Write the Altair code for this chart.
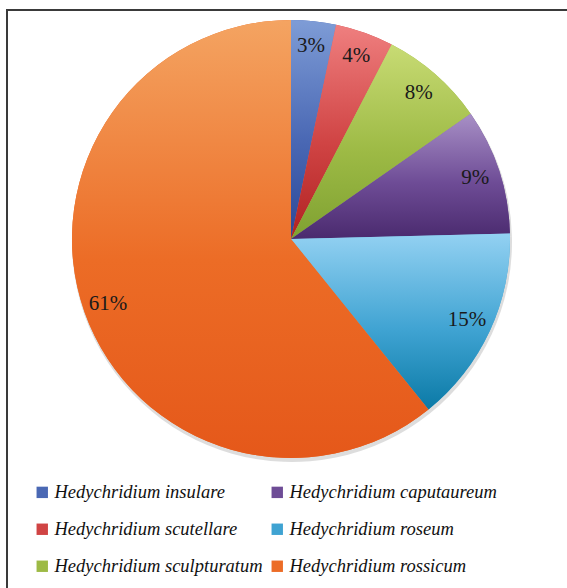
import altair as alt
import pandas as pd
import math

species = ["Hedychridium insulare", "Hedychridium scutellare", "Hedychridium sculpturatum",
           "Hedychridium caputaureum", "Hedychridium roseum", "Hedychridium rossicum"]
shares = [3.3, 4.3, 7.7, 9.3, 14.6, 60.8]
pct_labels = ["3%", "4%", "8%", "9%", "15%", "61%"]
top_colors = ["#7E9CD6", "#EF7F7F", "#C8DB74", "#A890C6", "#93D1F2", "#F4A462"]
mid_colors = ["#4A68B4", "#D04444", "#9DBA45", "#6E4C96", "#3FA3D2", "#EC6C26"]
bottom_colors = ["#2B4898", "#B02222", "#7FA131", "#4A2A6E", "#0B7AA6", "#E5581A"]

df = pd.DataFrame({"species": species, "share": shares, "label": pct_labels,
                   "order": list(range(len(species)))})

CX, CY, R = 291, 239, 219

base = alt.Chart(df).transform_window(
    end="sum(share)", sort=[alt.SortField("order")], frame=[None, 0]
).transform_calculate(
    start="datum.end - datum.share",
    mid="datum.end - datum.share / 2",
)

theta_scale = alt.Scale(domain=[0, 100], range=[0, 2 * math.pi])

shadow = base.mark_arc(outerRadius=R + 1, fill="#bbbbbb", opacity=0.5).encode(
    theta=alt.Theta("start:Q", scale=theta_scale),
    theta2="end:Q",
    x=alt.value(CX + 1), y=alt.value(CY + 3),
)

solid = base.mark_arc(outerRadius=R).encode(
    theta=alt.Theta("start:Q", scale=theta_scale),
    theta2="end:Q",
    x=alt.value(CX), y=alt.value(CY),
    color=alt.Color(
        "species:N",
        scale=alt.Scale(domain=species, range=mid_colors),
        legend=alt.Legend(
            title=None, orient="none", legendX=33, legendY=483, columns=2,
            symbolType="square", symbolSize=130, symbolStrokeWidth=0,
            labelFont="Liberation Serif", labelFontStyle="italic", labelFontSize=18.5,
            labelColor="#111111", labelOffset=3, rowPadding=18, columnPadding=5,
            labelLimit=400,
        ),
    ),
)

layers = [shadow, solid]
for i, s in enumerate(species):
    grad = alt.Gradient(
        gradient="linear", x1=0, y1=0, x2=0, y2=1,
        stops=[alt.GradientStop(color=top_colors[i], offset=0),
               alt.GradientStop(color=mid_colors[i], offset=0.55),
               alt.GradientStop(color=bottom_colors[i], offset=1)],
    )
    layers.append(
        base.transform_filter(alt.datum.species == s).mark_arc(outerRadius=R, fill=grad).encode(
            theta=alt.Theta("start:Q", scale=theta_scale),
            theta2="end:Q",
            x=alt.value(CX), y=alt.value(CY),
        )
    )

labels = base.mark_text(radius=194, font="Liberation Serif", fontSize=21, color="#1a1a1a").encode(
    theta=alt.Theta("mid:Q", scale=theta_scale),
    text="label:N",
    x=alt.value(CX), y=alt.value(CY),
)
layers.append(labels)

frame_top = alt.Chart(df).mark_rule(color="#3a3a3a", strokeWidth=2).encode(
    x=alt.value(6), x2=alt.value(567), y=alt.value(10)
)
frame_left = alt.Chart(df).mark_rule(color="#3a3a3a", strokeWidth=2).encode(
    x=alt.value(7), y=alt.value(9), y2=alt.value(588)
)
layers += [frame_top, frame_left]

chart = alt.layer(*layers).properties(
    width=567, height=588, padding=0, autosize=alt.AutoSizeParams(type="none"),
    background="white",
).configure_view(stroke=None)

chart.save("out.html", embed_options={"renderer": "svg", "actions": False})
